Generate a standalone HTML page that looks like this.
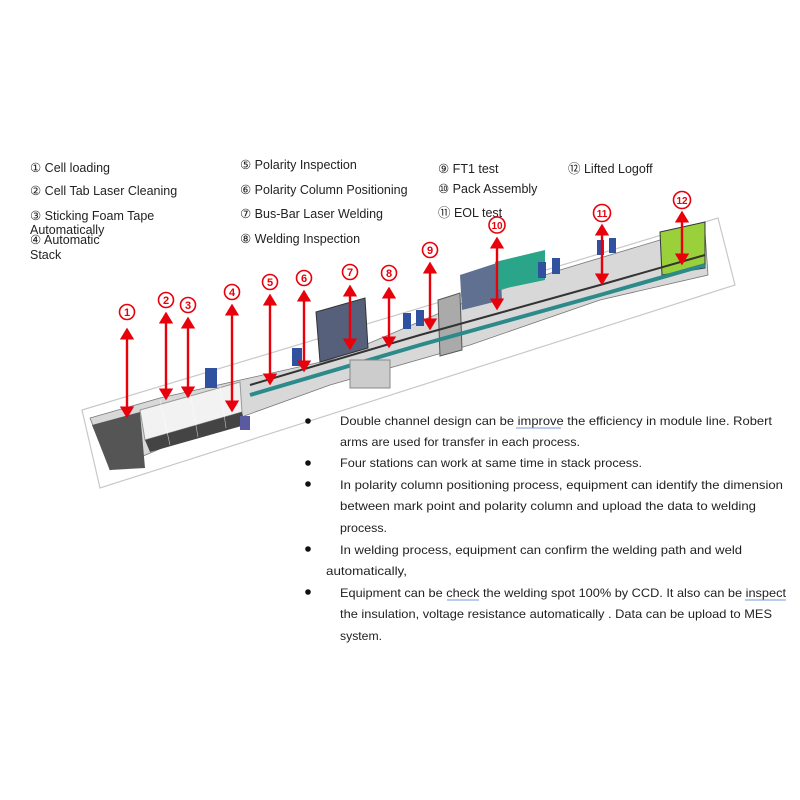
<!DOCTYPE html>
<html><head><meta charset="utf-8"><style>
html,body{margin:0;padding:0;background:#fff;}
svg{display:block;font-family:"Liberation Sans",sans-serif;}
.l{font-size:12.5px;fill:#222;}
.b{font-size:12px;fill:#222;}
</style></head><body>
<svg width="800" height="800" viewBox="0 0 800 800" xmlns="http://www.w3.org/2000/svg">
<rect width="800" height="800" fill="#fff"/>
<text class="l" x="30" y="172">① Cell loading</text>
<text class="l" x="30" y="195">② Cell Tab Laser Cleaning</text>
<text class="l" x="30" y="220">③ Sticking Foam Tape</text>
<text class="l" x="30" y="234">Automatically</text>
<text class="l" x="30" y="244">④ Automatic</text>
<text class="l" x="30" y="259">Stack</text>
<text class="l" x="240" y="169">⑤ Polarity Inspection</text>
<text class="l" x="240" y="194">⑥ Polarity Column Positioning</text>
<text class="l" x="240" y="218">⑦ Bus-Bar Laser Welding</text>
<text class="l" x="240" y="243">⑧ Welding Inspection</text>
<text class="l" x="438" y="173">⑨ FT1 test</text>
<text class="l" x="438" y="193">⑩ Pack Assembly</text>
<text class="l" x="438" y="217">⑪ EOL test</text>
<text class="l" x="568" y="173">⑫ Lifted Logoff</text>
<polygon points="82,410 718,218 735,285 100,488" fill="#fff" stroke="#c8c8c8" stroke-width="1.2"/>
<polygon points="90,418 160,398 330,360 470,300 560,270 660,240 705,232 708,275 600,300 470,345 330,385 200,432 110,470" fill="#d8d8d8" stroke="#777" stroke-width="0.8"/>
<polygon points="92,425 140,412 145,468 110,470" fill="#555"/>
<polygon points="140,410 240,382 242,412 145,440" fill="#f2f2f2" stroke="#999"/>
<polygon points="145,440 242,412 245,425 150,452" fill="#444"/>
<polygon points="316,312 365,298 368,348 320,362" fill="#56607a" stroke="#333"/>
<polygon points="438,300 460,293 462,350 440,356" fill="#aaa" stroke="#555"/>
<polygon points="460,275 500,262 502,300 462,310" fill="#607090"/>
<polygon points="495,262 545,250 545,280 497,290" fill="#2aa58a"/>
<polygon points="660,232 705,222 705,268 662,275" fill="#9ad03a" stroke="#334" />
<polyline points="250,395 420,345 600,295 705,265" fill="none" stroke="#2d8a8a" stroke-width="4"/>
<polyline points="250,385 420,335 600,285 705,255" fill="none" stroke="#333" stroke-width="2"/>
<rect x="205" y="368" width="12" height="20" fill="#3050a0"/>
<rect x="292" y="348" width="10" height="18" fill="#3050a0"/>
<rect x="403" y="313" width="8" height="16" fill="#3050a0"/>
<rect x="416" y="310" width="8" height="16" fill="#3050a0"/>
<rect x="538" y="262" width="8" height="16" fill="#3050a0"/>
<rect x="552" y="258" width="8" height="16" fill="#3050a0"/>
<rect x="597" y="240" width="7" height="15" fill="#3050a0"/>
<rect x="609" y="238" width="7" height="15" fill="#3050a0"/>
<rect x="240" y="416" width="10" height="14" fill="#5a5aa0"/>
<rect x="350" y="360" width="40" height="28" fill="#ccc" stroke="#888"/>
<g stroke="#fff" stroke-width="0.6" opacity="0.7">
<line x1="160" y1="400" x2="170" y2="445"/><line x1="190" y1="392" x2="198" y2="437"/><line x1="220" y1="386" x2="226" y2="428"/>
</g>
<defs><marker id="a" markerWidth="6" markerHeight="6" refX="4" refY="3" orient="auto-start-reverse" markerUnits="strokeWidth"><path d="M0,0 L5,3 L0,6 Z" fill="#e8000b"/></marker></defs>
<g stroke="#e8000b" stroke-width="2.4" marker-start="url(#a)" marker-end="url(#a)">
<line x1="127" y1="330" x2="127" y2="416"/>
<line x1="166" y1="314" x2="166" y2="398"/>
<line x1="188" y1="319" x2="188" y2="396"/>
<line x1="232" y1="306" x2="232" y2="410"/>
<line x1="270" y1="296" x2="270" y2="383"/>
<line x1="304" y1="292" x2="304" y2="370"/>
<line x1="350" y1="287" x2="350" y2="348"/>
<line x1="389" y1="289" x2="389" y2="346"/>
<line x1="430" y1="264" x2="430" y2="328"/>
<line x1="497" y1="239" x2="497" y2="308"/>
<line x1="602" y1="226" x2="602" y2="283"/>
<line x1="682" y1="213" x2="682" y2="263"/>
</g>
<g fill="#fff" stroke="#e8000b" stroke-width="1.6">
<circle cx="127" cy="312" r="7.5"/><circle cx="166" cy="300" r="7.5"/><circle cx="188" cy="305" r="7.5"/>
<circle cx="232" cy="292" r="7.5"/><circle cx="270" cy="282" r="7.5"/><circle cx="304" cy="278" r="7.5"/>
<circle cx="350" cy="272" r="7.5"/><circle cx="389" cy="273" r="7.5"/><circle cx="430" cy="250" r="7.5"/>
<circle cx="497" cy="225" r="8"/><circle cx="602" cy="213" r="8.5"/><circle cx="682" cy="200" r="8.5"/>
</g>
<g fill="#e8000b" font-size="11" font-weight="bold" text-anchor="middle">
<text x="127" y="316">1</text><text x="166" y="304">2</text><text x="188" y="309">3</text>
<text x="232" y="296">4</text><text x="270" y="286">5</text><text x="304" y="282">6</text>
<text x="350" y="276">7</text><text x="389" y="277">8</text><text x="430" y="254">9</text>
<text x="497" y="229" font-size="10">10</text><text x="602" y="217" font-size="10">11</text><text x="682" y="204" font-size="10">12</text>
</g>
<g fill="#111"><circle cx="308" cy="421" r="2.8"/><circle cx="308" cy="463" r="2.8"/><circle cx="308" cy="484" r="2.8"/><circle cx="308" cy="549" r="2.8"/><circle cx="308" cy="592" r="2.8"/></g>
<text class="b" x="340" y="425" textLength="432" lengthAdjust="spacingAndGlyphs">Double channel design can be improve the efficiency in module line. Robert</text>
<line x1="516" y1="428" x2="561" y2="428" stroke="#7a9ad8" stroke-width="1"/>
<text class="b" x="340" y="446" textLength="240" lengthAdjust="spacingAndGlyphs">arms are used for transfer in each process.</text>
<text class="b" x="340" y="467" textLength="302" lengthAdjust="spacingAndGlyphs">Four stations can work at same time in stack process.</text>
<text class="b" x="340" y="489" textLength="443" lengthAdjust="spacingAndGlyphs">In polarity column positioning process, equipment can identify the dimension</text>
<text class="b" x="340" y="510" textLength="416" lengthAdjust="spacingAndGlyphs">between mark point and polarity column and upload the data to welding</text>
<text class="b" x="340" y="532" textLength="47" lengthAdjust="spacingAndGlyphs">process.</text>
<text class="b" x="340" y="554" textLength="402" lengthAdjust="spacingAndGlyphs">In welding process, equipment can confirm the welding path and weld</text>
<text class="b" x="326" y="575" textLength="81" lengthAdjust="spacingAndGlyphs">automatically,</text>
<text class="b" x="340" y="597" textLength="446" lengthAdjust="spacingAndGlyphs">Equipment can be check the welding spot 100% by CCD. It also can be inspect</text>
<line x1="447" y1="600" x2="479" y2="600" stroke="#7a9ad8" stroke-width="1"/>
<line x1="745" y1="600" x2="786" y2="600" stroke="#7a9ad8" stroke-width="1"/>
<text class="b" x="340" y="618" textLength="432" lengthAdjust="spacingAndGlyphs">the insulation, voltage resistance automatically . Data can be upload to MES</text>
<text class="b" x="340" y="640" textLength="42" lengthAdjust="spacingAndGlyphs">system.</text>
</svg>
</body></html>
